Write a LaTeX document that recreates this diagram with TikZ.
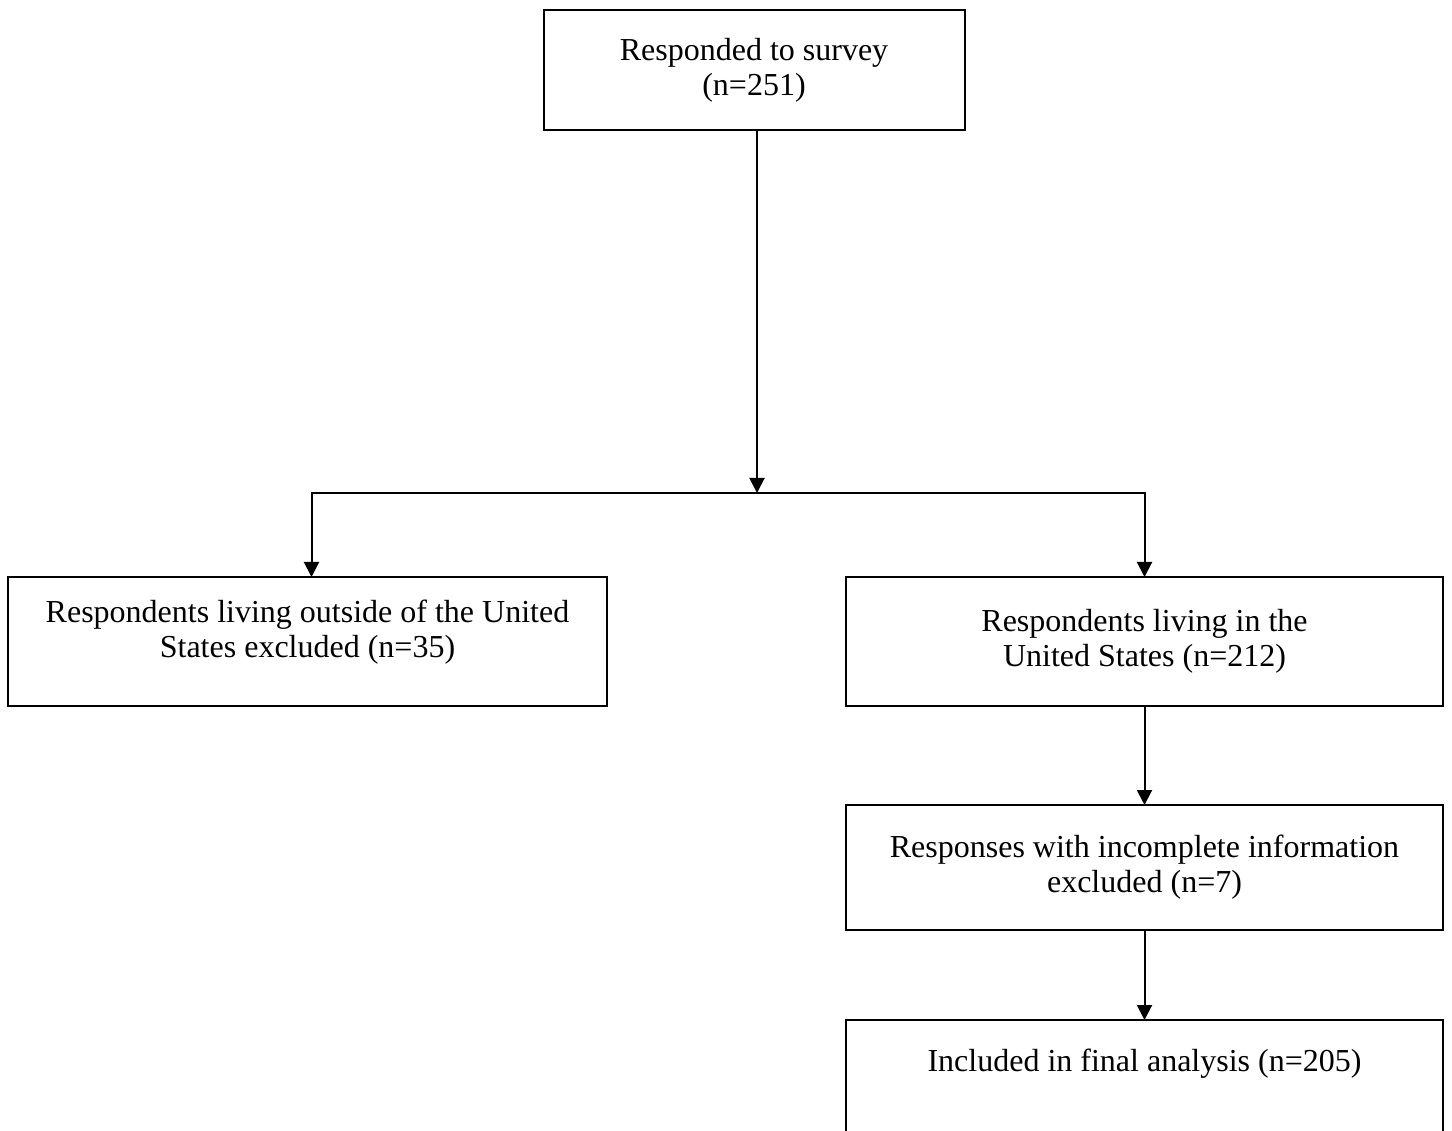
\documentclass[tikz,border=0pt]{standalone}
\usepackage{fontspec}
\setmainfont{Liberation Serif}
\usetikzlibrary{arrows.meta}
\begin{document}
\begin{tikzpicture}[x=0.4pt,y=-0.4pt,
  box/.style={draw=black,line width=0.8pt,rectangle,align=center,inner sep=0pt,outer sep=0pt,
    font=\fontsize{12.8}{14}\selectfont},
  arr/.style={line width=0.8pt,-{Triangle[length=6pt,width=6pt]}}]
\useasboundingbox (0,0) rectangle (1452,1131);
\node[box,minimum width=168.4pt,minimum height=48pt] (top) at (754,70) {Responded to survey\\(n=251)};
\node[box,minimum width=239.6pt,minimum height=51.6pt,text depth=10.4pt] (left) at (307.5,641.5) {Respondents living outside of the United\\States excluded (n=35)};
\node[box,minimum width=238.8pt,minimum height=51.6pt] (right) at (1144.5,641.5) {Respondents living in the\\United States (n=212)};
\node[box,minimum width=238.8pt,minimum height=50pt] (excl) at (1144.5,867.5) {Responses with incomplete information\\excluded (n=7)};
\node[box,minimum width=238.8pt,minimum height=50pt] (final) at (1144.5,1082.5) {Included in final analysis (n=205)\\[4pt]\mbox{}};
\coordinate (j) at ([xshift=1.2pt]top.south |- 0,493);
\draw[arr] ([xshift=1.2pt]top.south) -- (j);
\draw[arr] (j) -| ([xshift=1.6pt]left.north);
\draw[arr] (j) -| (right);
\draw[arr] (right) -- (excl);
\draw[arr] (excl) -- (final);
\end{tikzpicture}
\end{document}
